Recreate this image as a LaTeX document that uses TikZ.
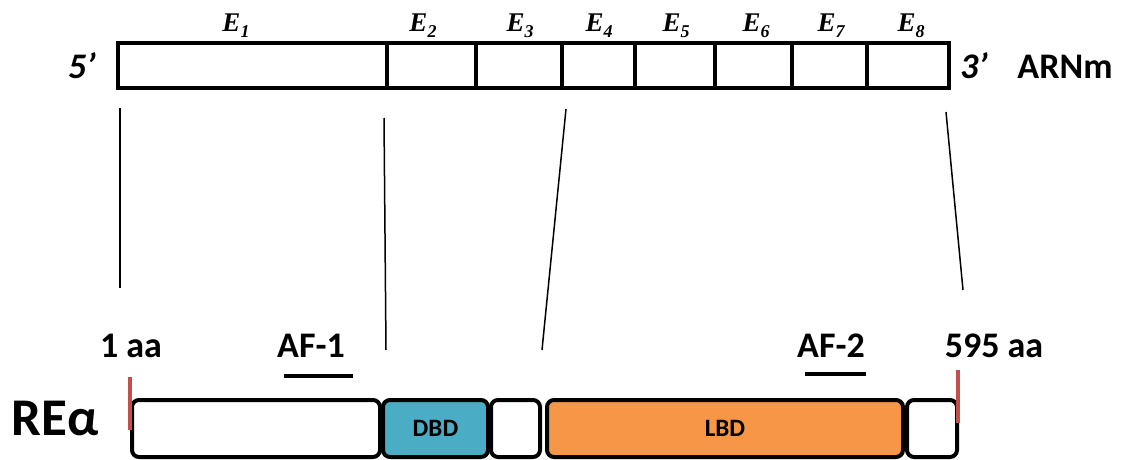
\documentclass[tikz,border=0pt]{standalone}
\usepackage{fontspec}
\setmainfont{Liberation Serif}
\newfontfamily\calib{Carlito}
\definecolor{dbdblue}{HTML}{4BACC6}
\definecolor{lbdorange}{HTML}{F79646}
\definecolor{markred}{HTML}{C0504D}
\newcommand{\exlab}[1]{{\fontsize{27}{27}\selectfont\bfseries\itshape E\raisebox{-0.22em}{\fontsize{18}{18}\selectfont #1}}}
\begin{document}
\begin{tikzpicture}[x=1pt,y=-1pt,
  exon/.style={draw, line width=4.2pt, inner sep=0pt, outer sep=0pt, minimum height=45.6pt},
  dom/.style={draw, line width=4pt, rounded corners=7pt, inner sep=0pt, outer sep=0pt, minimum height=57pt},
  elab/.style={anchor=base, inner sep=0pt},
  sans/.style={anchor=base, inner sep=0pt, font=\calib\bfseries\fontsize{36}{36}\selectfont},
  conn/.style={line width=1.5pt},
  afbar/.style={line width=4pt},
  redmark/.style={line width=4pt, draw=markred}]
\useasboundingbox (0,0) rectangle (1125,460);

% exons
\node[exon, minimum width=269pt] (e1) at (252.5,65.5) {};
\node[exon, minimum width=89pt] (e2) at (431.5,65.5) {};
\node[exon, minimum width=86pt] (e3) at (519,65.5) {};
\node[exon, minimum width=73pt] (e4) at (598.5,65.5) {};
\node[exon, minimum width=80pt] (e5) at (675,65.5) {};
\node[exon, minimum width=77pt] (e6) at (753.5,65.5) {};
\node[exon, minimum width=75pt] (e7) at (829.5,65.5) {};
\node[exon, minimum width=82pt] (e8) at (908,65.5) {};

\node[elab] (l1) at (236,32) {\exlab{1}};
\node[elab] (l2) at (423,32) {\exlab{2}};
\node[elab] (l3) at (520,32) {\exlab{3}};
\node[elab] (l4) at (599,32) {\exlab{4}};
\node[elab] (l5) at (676,32) {\exlab{5}};
\node[elab] (l6) at (756,32) {\exlab{6}};
\node[elab] (l7) at (831,32) {\exlab{7}};
\node[elab] (l8) at (911,32) {\exlab{8}};

\node[sans, font=\calib\bfseries\itshape\fontsize{36}{36}\selectfont] (five) at (82,79) {5’};
\node[sans, font=\calib\bfseries\itshape\fontsize{36}{36}\selectfont] (three) at (974,78) {3’};
\node[sans] (arnm) at (1065,78) {ARNm};

% domains
\node[dom, minimum width=248pt] (b1) at (256,428.5) {};
\node[dom, minimum width=105pt, fill=dbdblue, font=\calib\bfseries\fontsize{25}{25}\selectfont] (dbd) at (435.5,428.5) {DBD};
\node[dom, minimum width=49pt] (b3) at (515.5,428.5) {};
\node[dom, minimum width=356pt, fill=lbdorange, font=\calib\bfseries\fontsize{25}{25}\selectfont] (lbd) at (725,428.5) {LBD};
\node[dom, minimum width=50pt] (b5) at (932,428.5) {};

\node[sans, font=\calib\bfseries\fontsize{53}{53}\selectfont] (rea) at (55,435) {REα};
\node[sans] (aa1) at (131,357) {1 aa};
\node[sans] (af1) at (311,357) {AF-1};
\node[sans] (af2) at (831,357) {AF-2};
\node[sans] (aa595) at (994,357) {595 aa};

% AF bars
\draw[afbar] (284,376) -- (353,376);
\draw[afbar] (805,374) -- (866,374);

% red end marks
\draw[redmark] (130,377) -- (130,430);
\draw[redmark] (958,370) -- (958,423);

% connectors
\coordinate (t1) at (120,108); \coordinate (u1) at (120,288);
\coordinate (t2) at (384,118); \coordinate (u2) at (386,350);
\coordinate (t3) at (566,109); \coordinate (u3) at (542,350);
\coordinate (t4) at (946,112); \coordinate (u4) at (963,290);
\draw[conn] (t1) -- (u1);
\draw[conn] (t2) -- (u2);
\draw[conn] (t3) -- (u3);
\draw[conn] (t4) -- (u4);
\end{tikzpicture}
\end{document}
